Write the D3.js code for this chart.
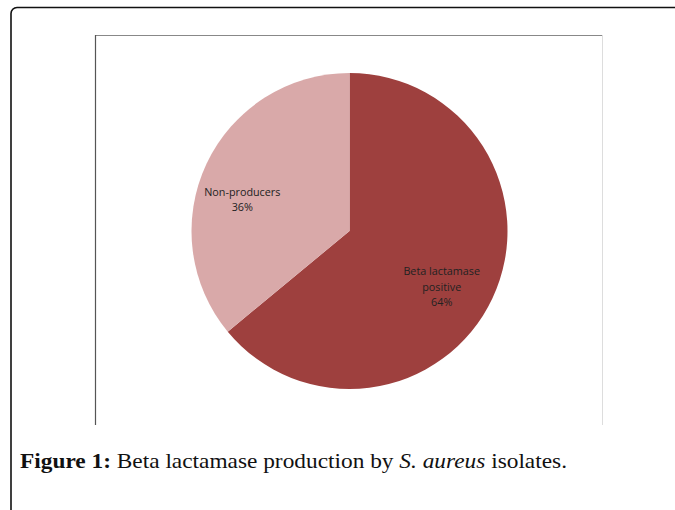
<!DOCTYPE html>
<html>
<head>
<meta charset="utf-8">
<script src="https://cdn.jsdelivr.net/npm/d3@7"></script>
<style>
  body { margin: 0; background: #fff; }
  svg { display: block; }
</style>
</head>
<body>
<script>
const w = 675;
const h = 510;

// chart data
const categories = ['Beta lactamase positive', 'Non-producers'];
const values = [64, 36];
const labelLines = [['Beta lactamase', 'positive', '64%'], ['Non-producers', '36%']];
const colors = ['#9e403e', '#d9a9a9'];

let svg = d3.select('body')
        .append('svg')
        .attr('width', w)
        .attr('height', h);

// outer rounded frame (runs off the right and bottom edge)
svg.append('rect')
   .attr('x', 11)
   .attr('y', 7.5)
   .attr('width', 700)
   .attr('height', 540)
   .attr('rx', 6)
   .attr('fill', 'none')
   .attr('stroke', '#111')
   .attr('stroke-width', 1.6);

// chart area frame
svg.append('line').attr('x1', 95.5).attr('x2', 602.5).attr('y1', 35.5).attr('y2', 35.5)
   .attr('stroke', '#888').attr('stroke-width', 1.2);
svg.append('line').attr('x1', 95.5).attr('x2', 95.5).attr('y1', 35).attr('y2', 425)
   .attr('stroke', '#555').attr('stroke-width', 1.2);
svg.append('line').attr('x1', 602.5).attr('x2', 602.5).attr('y1', 35).attr('y2', 425)
   .attr('stroke', '#ddd').attr('stroke-width', 1);

const cx = 349.5, cy = 231, r = 158;

let pie = d3.pie().sort(null).value(d => d)(values);
let arc = d3.arc().innerRadius(0).outerRadius(r);

let g = svg.append('g').attr('transform', 'translate(' + cx + ',' + cy + ')');

g.selectAll('path')
  .data(pie)
  .enter()
  .append('path')
  .attr('d', arc)
  .attr('fill', (d, i) => colors[i]);

// label placement: along slice middle, then nudged like excel's best fit
let labelArc = d3.arc().innerRadius(r * 0.68).outerRadius(r * 0.68);
const nudge = [[-5, 10], [-10, 14]];

g.selectAll('text.lbl')
  .data(pie)
  .enter()
  .append('text')
  .attr('class', 'lbl')
  .attr('text-anchor', 'middle')
  .attr('font-family', 'Open Sans, sans-serif')
  .attr('font-size', 10.8)
  .attr('fill', '#222')
  .each(function(d, i) {
    let c = labelArc.centroid(d);
    let lines = labelLines[i];
    let t = d3.select(this);
    lines.forEach((s, k) => {
      t.append('tspan')
       .attr('x', c[0] + nudge[i][0])
       .attr('y', c[1] + nudge[i][1] + (k - (lines.length - 1) / 2) * 15.5 + 4)
       .text(s);
    });
  });

// caption
let cap = svg.append('text')
   .attr('x', 20)
   .attr('y', 468)
   .attr('font-family', 'Liberation Serif, serif')
   .attr('font-size', 21)
   .attr('textLength', 547)
   .attr('lengthAdjust', 'spacingAndGlyphs')
   .attr('fill', '#111');
cap.append('tspan').attr('font-weight', 'bold').text('Figure 1:');
cap.append('tspan').text(' Beta lactamase production by ');
cap.append('tspan').attr('font-style', 'italic').text('S. aureus');
cap.append('tspan').text(' isolates.');
</script>
</body>
</html>
